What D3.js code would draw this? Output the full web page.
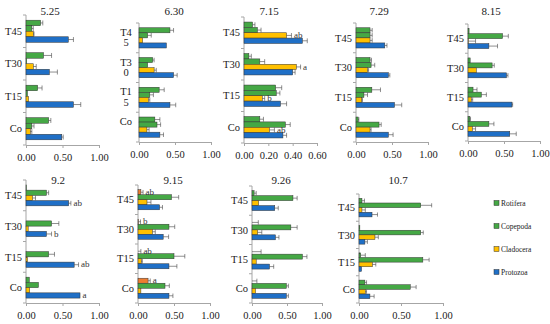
<!DOCTYPE html>
<html>
<head>
<meta charset="utf-8">
<script src="https://cdn.jsdelivr.net/npm/d3@7"></script>
<style>
    body { margin: 0; background: #fff; }
    text { font-family: "Liberation Serif", "Times New Roman", "DejaVu Serif", serif !important; }
</style>
</head>
<body>
<svg id="chart" width="550" height="324"></svg>
<script>
// Sampling dates (one panel each)
var dates = ["5.25", "6.30", "7.15", "7.29", "8.15", "9.2", "9.15", "9.26", "10.7"];
var groups = ["T45", "T30", "T15", "Co"];
var taxa = ["Rotifera", "Copepoda", "Cladocera", "Protozoa"];
var taxaColors = ["#45a845", "#45a845", "#ffc000", "#1f6fc6"];
var xMax = [1, 1, 0.6, 1, 1, 1, 1, 1, 1];
var tickStep = [0.5, 0.5, 0.2, 0.5, 0.5, 0.5, 0.5, 0.5, 0.5];

// means[panel][group][taxon]
var means = [
    [[0.20, 0.08, 0.10, 0.58], [0.24, 0.01, 0.10, 0.32], [0.16, 0.02, 0.035, 0.65], [0.31, 0.08, 0.06, 0.49]],
    [[0.43, 0.12, 0.05, 0.38], [0.19, 0.12, 0.21, 0.48], [0.28, 0.15, 0.13, 0.43], [0.22, 0.25, 0.11, 0.29]],
    [[0.07, 0.11, 0.35, 0.48], [0.04, 0.13, 0.43, 0.40], [0.26, 0.265, 0.15, 0.30], [0.13, 0.34, 0.21, 0.32]],
    [[0.195, 0.195, 0.195, 0.40], [0.195, 0.21, 0.16, 0.45], [0.22, 0.11, 0.08, 0.535], [0.03, 0.32, 0.195, 0.45]],
    [[0.015, 0.48, 0.005, 0.29], [0.03, 0.335, 0.115, 0.535], [0.07, 0.185, 0.045, 0.61], [0.025, 0.29, 0.06, 0.58]],
    [[0.005, 0.28, 0.09, 0.585], [0, 0.35, 0.03, 0.28], [0, 0.31, 0.02, 0.66], [0.045, 0.17, 0.05, 0.74]],
    [[0.04, 0.465, 0.125, 0.30], [0.005, 0.43, 0.20, 0.35], [0, 0.50, 0.045, 0.43], [0.14, 0.375, 0.04, 0.43]],
    [[0.03, 0.585, 0.095, 0.325], [0, 0.555, 0.08, 0.335], [0, 0.72, 0.06, 0.25], [0, 0.49, 0.05, 0.49]],
    [[0.035, 0.735, 0.035, 0.155], [0.01, 0.735, 0.19, 0.07], [0.02, 0.76, 0.16, 0.03], [0.07, 0.61, 0.075, 0.13]]
];

// errors[panel][group][taxon]
var errors = [
    [[0.03, 0.02, 0.01, 0.07], [0.11, 0, 0.04, 0.11], [0.06, 0, 0, 0.10], [0.03, 0.03, 0.02, 0.02]],
    [[0.05, 0.05, 0, 0], [0.02, 0, 0.03, 0.05], [0.07, 0.05, 0.02, 0.08], [0.07, 0.05, 0.03, 0.05]],
    [[0.02, 0.03, 0.04, 0.04], [0.02, 0.04, 0.035, 0.02], [0.05, 0.03, 0.02, 0.05], [0.03, 0.04, 0.04, 0.03]],
    [[0.03, 0.03, 0.03, 0.03], [0.02, 0.05, 0.015, 0.02], [0.12, 0.05, 0.01, 0.10], [0.01, 0.03, 0.015, 0.065]],
    [[0, 0.08, 0.10, 0.12], [0, 0.03, 0, 0.02], [0.055, 0.07, 0.02, 0.01], [0.01, 0.07, 0.045, 0.09]],
    [[0, 0.03, 0.04, 0.03], [0, 0.10, 0, 0.07], [0, 0.08, 0, 0.06], [0, 0, 0, 0]],
    [[0.03, 0.10, 0.055, 0.04], [0.03, 0.08, 0.04, 0.075], [0.04, 0.15, 0.015, 0.11], [0.03, 0.06, 0, 0.055]],
    [[0.03, 0.06, 0, 0.05], [0.09, 0.09, 0.06, 0.05], [0.13, 0.065, 0, 0.06], [0.07, 0.03, 0, 0.03]],
    [[0.03, 0.13, 0.04, 0.065], [0, 0.03, 0.04, 0.03], [0.055, 0.075, 0.04, 0], [0.02, 0.07, 0.015, 0.05]]
];

// Significance letters: [panel, group, taxon, letter]
var letters = [
    [2, 0, 2, "ab"], [2, 1, 2, "a"], [2, 2, 2, "b"], [2, 3, 2, "ab"],
    [5, 0, 3, "ab"], [5, 1, 3, "b"], [5, 2, 3, "ab"], [5, 3, 3, "a"],
    [6, 0, 0, "ab"], [6, 1, 0, "b"], [6, 2, 0, "ab"], [6, 3, 0, "a"]
];

// Panel 9.15 draws its Rotifera bars in orange
var rotiferaOverride = { 6: "#ed7d31" };

// Panel placement: x of 0, x of max, top, bottom, title x, title baseline
var layout = [
    [26, 99, 15, 145, 50, 15],
    [139, 211, 23, 142, 174, 15],
    [244, 317, 17, 143, 269, 15],
    [356, 428, 23, 142, 379, 15],
    [468, 540, 24, 141, 491, 15],
    [26, 99, 180, 303, 58, 184],
    [138, 210, 185, 303, 173, 184],
    [252, 322, 186, 303, 281, 184],
    [359, 443, 194, 303, 398, 184]
];

var serif = "Liberation Serif, Times New Roman, serif";
var svg = d3.select("#chart").attr("font-family", serif);

function drawPanel(p) {
    var L = layout[p];
    var g = svg.append("g").attr("class", "panel");

    var xScale = d3.scaleLinear()
        .domain([0, xMax[p]])
        .range([L[0], L[1]]);

    var yScale = d3.scaleBand()
        .domain(groups)
        .range([L[2], L[3]])
        .paddingInner(0.32)
        .paddingOuter(0.16);

    var ySub = d3.scaleBand()
        .domain(taxa)
        .range([0, yScale.bandwidth()]);

    var ticks = d3.range(0, xMax[p] + 1e-9, tickStep[p]);

    // x axis
    var xAxis = g.append("g")
        .attr("transform", `translate(0, ${L[3]})`)
        .call(d3.axisBottom(xScale)
            .tickValues(ticks)
            .tickSize(3)
            .tickSizeOuter(0)
            .tickFormat(d3.format(".2f")))
        .attr("font-family", serif)
        .attr("font-size", 10.5);
    xAxis.select(".domain").attr("stroke", "#a6a6a6");
    xAxis.selectAll(".tick line").attr("stroke", "#a6a6a6");
    xAxis.selectAll(".tick text")
        .attr("fill", "#222")
        .attr("dy", "0.95em");

    // y axis line and category separators
    g.append("line")
        .attr("x1", L[0]).attr("x2", L[0])
        .attr("y1", L[2]).attr("y2", L[3])
        .attr("stroke", "#a6a6a6");
    var step = yScale.step();
    g.selectAll(".sep")
        .data(d3.range(groups.length + 1))
        .enter()
        .append("line")
        .attr("x1", L[0] - 3).attr("x2", L[0])
        .attr("y1", i => L[2] + i * step)
        .attr("y2", i => L[2] + i * step)
        .attr("stroke", "#a6a6a6");

    // category labels (the 6.30 panel wraps them onto two lines)
    groups.forEach(function(name, gi) {
        var cy = yScale(name) + yScale.bandwidth() / 2;
        if (p == 1) {
            var t = g.append("text")
                .attr("font-size", 10.5)
                .attr("fill", "#222")
                .attr("text-anchor", "middle")
                .attr("x", L[0] - 13)
                .attr("y", cy - 2);
            if (name.length > 2) {
                t.append("tspan").attr("x", L[0] - 13).text(name.slice(0, 2));
                t.append("tspan").attr("x", L[0] - 13).attr("dy", 10.5).text(name.slice(2));
            } else {
                t.text(name);
            }
        } else {
            g.append("text")
                .attr("font-size", 10.5)
                .attr("fill", "#222")
                .attr("text-anchor", "end")
                .attr("x", L[0] - 4)
                .attr("y", cy)
                .attr("dy", "0.35em")
                .text(name);
        }
    });

    // bars
    var rows = [];
    groups.forEach(function(name, gi) {
        taxa.forEach(function(taxon, ti) {
            rows.push({ group: name, gi: gi, taxon: taxon, ti: ti,
                        value: means[p][gi][ti], err: errors[p][gi][ti] });
        });
    });

    g.selectAll(".bar")
        .data(rows)
        .enter()
        .append("rect")
        .attr("class", "bar")
        .attr("x", xScale(0))
        .attr("y", d => yScale(d.group) + ySub(d.taxon))
        .attr("width", d => xScale(d.value) - xScale(0))
        .attr("height", ySub.bandwidth())
        .attr("fill", function(d) {
            if (d.ti == 0 && rotiferaOverride[p]) return rotiferaOverride[p];
            return taxaColors[d.ti];
        })
        .attr("stroke", "#333")
        .attr("stroke-width", 0.5);

    // error bars
    var withErr = rows.filter(d => d.err > 0);
    g.selectAll(".err")
        .data(withErr)
        .enter()
        .append("path")
        .attr("class", "err")
        .attr("d", function(d) {
            var cy = yScale(d.group) + ySub(d.taxon) + ySub.bandwidth() / 2;
            var x0 = xScale(d.value), x1 = xScale(d.value + d.err);
            var h = ySub.bandwidth() * 0.45;
            return `M${x0},${cy}H${x1}M${x1},${cy - h}V${cy + h}`;
        })
        .attr("stroke", "#444")
        .attr("stroke-width", 0.6)
        .attr("fill", "none");

    // significance letters
    letters.filter(l => l[0] == p).forEach(function(l) {
        var v = means[p][l[1]][l[2]] + errors[p][l[1]][l[2]];
        var cy = yScale(groups[l[1]]) + ySub(taxa[l[2]]) + ySub.bandwidth() / 2;
        g.append("text")
            .attr("font-size", 9)
            .attr("x", xScale(v) + 2.5)
            .attr("y", cy)
            .attr("dy", "0.3em")
            .attr("fill", "#333")
            .text(l[3]);
    });

    // title
    g.append("text")
        .attr("font-size", 11)
        .attr("fill", "#222")
        .attr("text-anchor", "middle")
        .attr("x", L[4])
        .attr("y", L[5])
        .text(dates[p]);
}

dates.forEach(function(d, p) { drawPanel(p); });

// Legend
var legend = svg.append("g").attr("class", "legend");
var legendY = [203, 226, 249, 272];
taxa.forEach(function(name, i) {
    legend.append("rect")
        .attr("x", 494)
        .attr("y", legendY[i] - 2.5)
        .attr("width", 5)
        .attr("height", 5)
        .attr("fill", taxaColors[i])
        .attr("stroke", "#333")
        .attr("stroke-width", 0.5);
    legend.append("text")
        .attr("x", 501)
        .attr("y", legendY[i])
        .attr("dy", "0.35em")
        .attr("font-size", 7.5)
        .attr("fill", "#222")
        .text(name);
});
</script>
</body>
</html>
